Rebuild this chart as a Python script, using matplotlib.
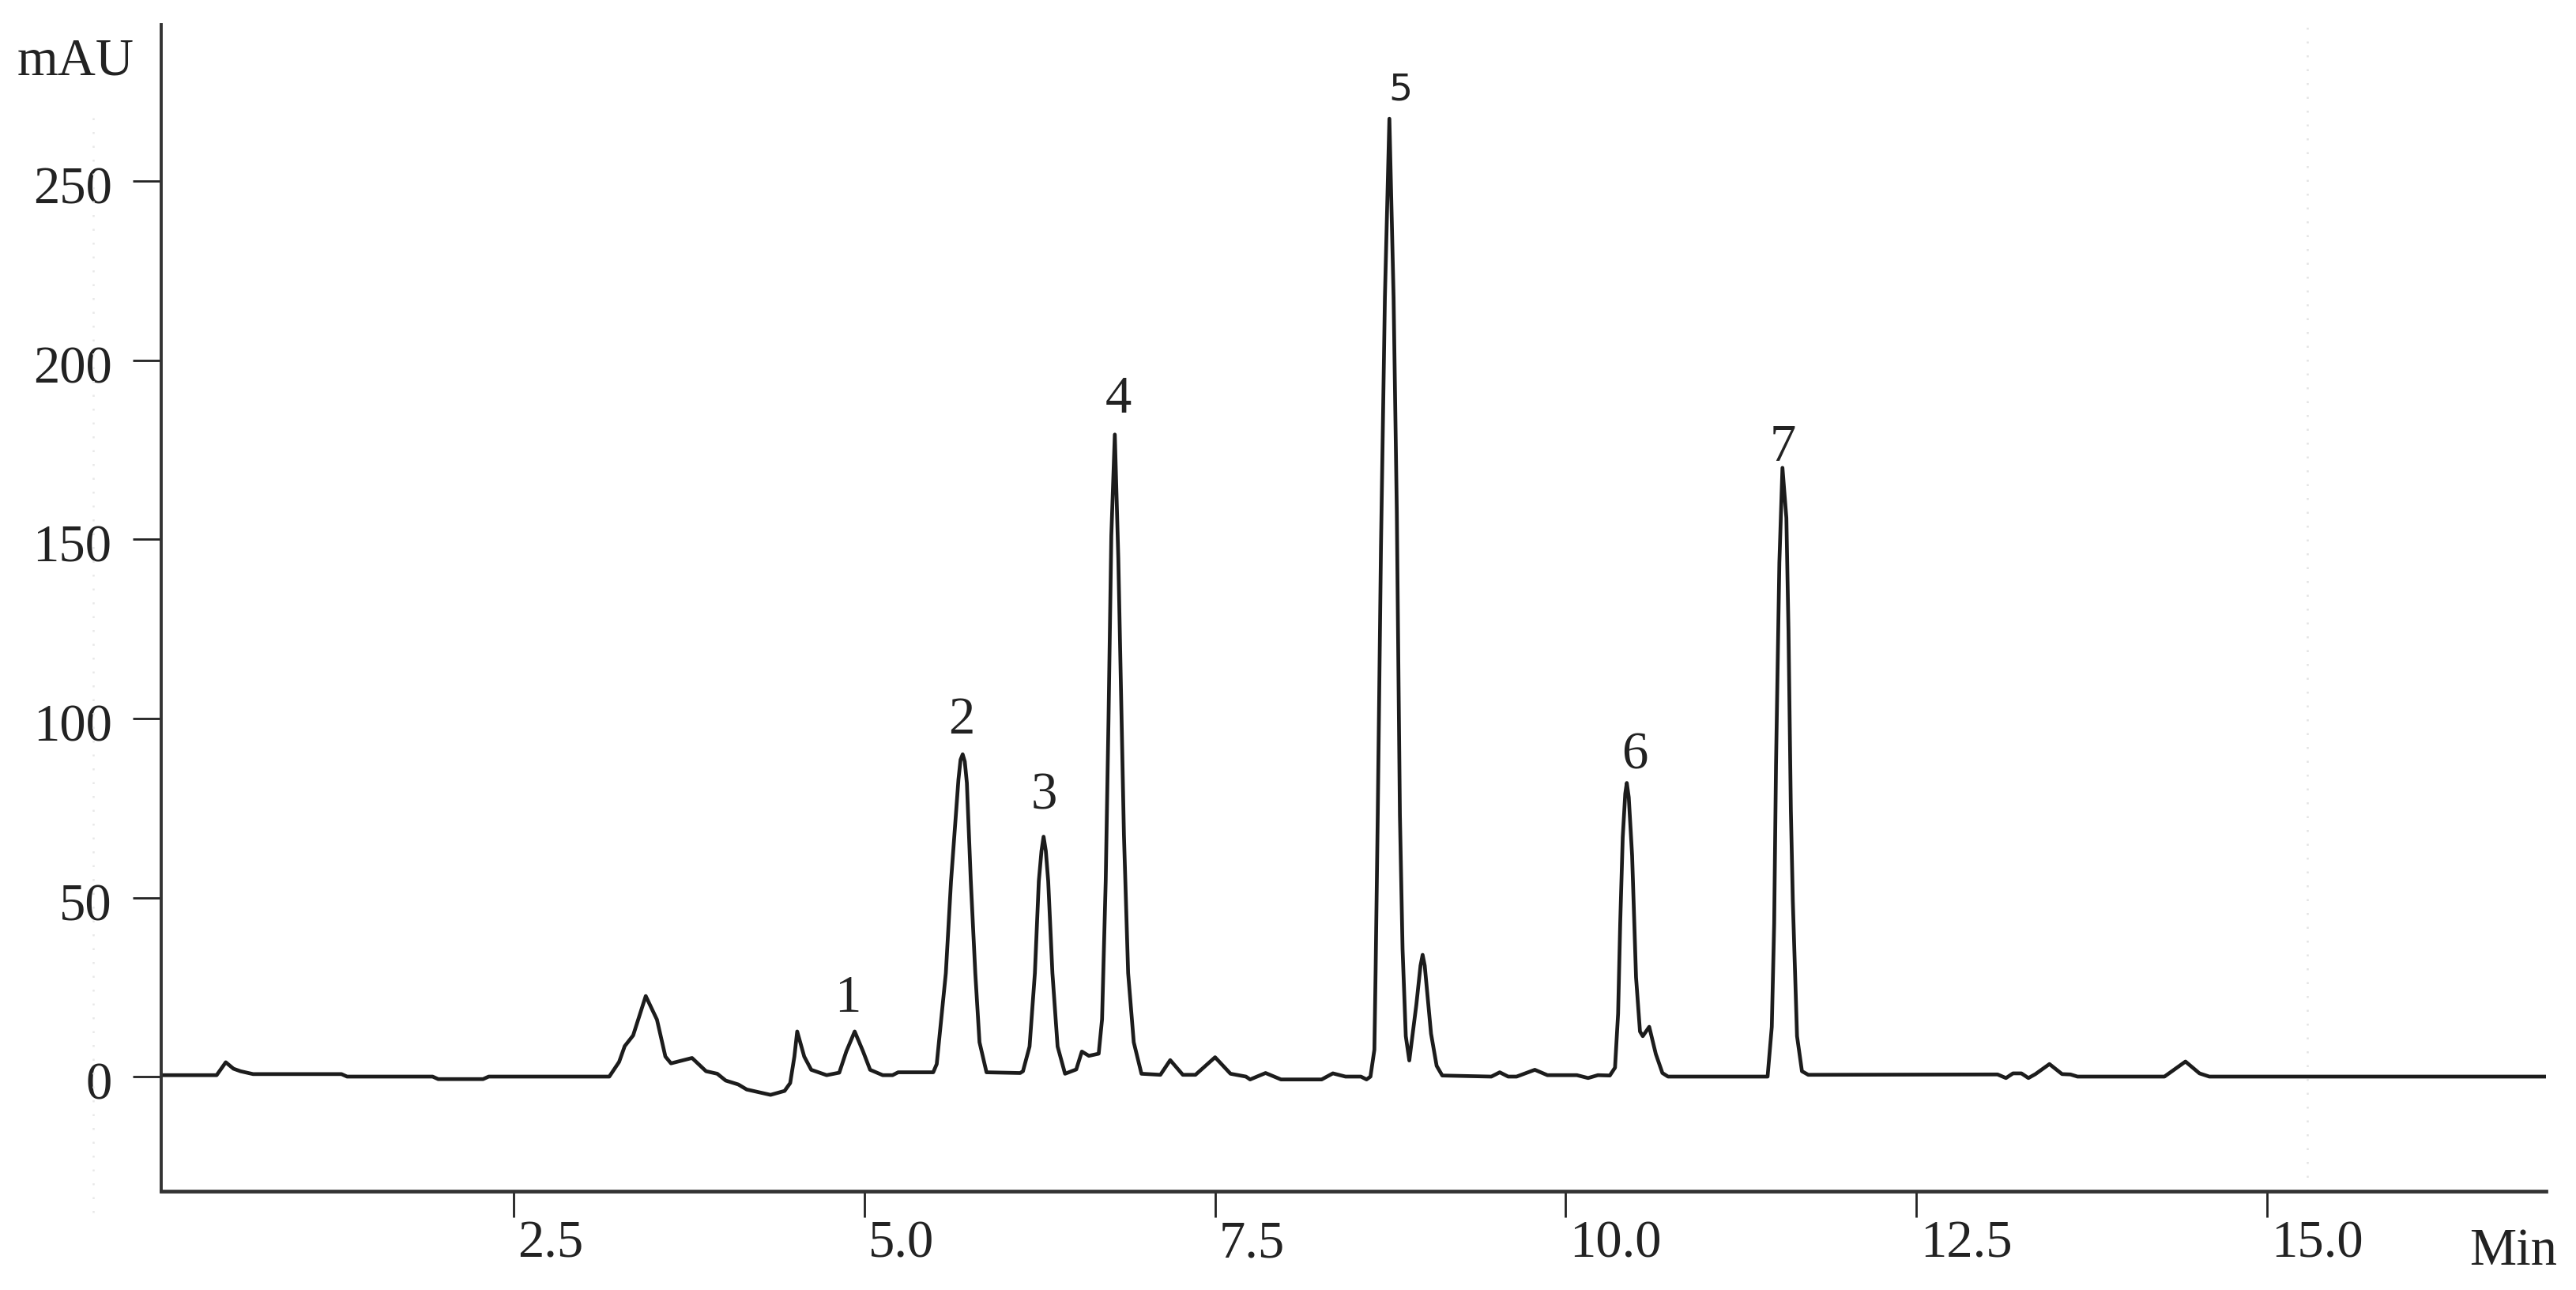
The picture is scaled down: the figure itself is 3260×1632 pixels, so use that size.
import matplotlib
matplotlib.use('Agg')
import matplotlib.pyplot as plt
import matplotlib.transforms as mtransforms

# Chromatogram trace (retention time in min, signal in mAU)
time_min = [
    0.00, 0.38, 0.445, 0.50, 0.55, 0.64, 1.27, 1.31, 1.92, 1.96, 2.28, 2.32,
    3.18, 3.25, 3.29, 3.35, 3.44, 3.52, 3.58, 3.62, 3.70, 3.77, 3.87, 3.95,
    4.01, 4.10, 4.16, 4.24, 4.33, 4.43, 4.47, 4.50, 4.52, 4.57, 4.62, 4.73,
    4.82, 4.87, 4.93, 4.99, 5.04, 5.13, 5.20, 5.24, 5.49,
    5.515, 5.58, 5.617, 5.67, 5.685, 5.70, 5.715, 5.73, 5.758, 5.79, 5.82, 5.87, 6.11,
    6.13, 6.177, 6.215, 6.243, 6.262, 6.277, 6.293, 6.31, 6.34, 6.377, 6.43, 6.51,
    6.55, 6.60, 6.67,
    6.694, 6.72, 6.74, 6.76, 6.785, 6.81, 6.83, 6.85, 6.88, 6.92, 6.975,
    7.11, 7.18, 7.27, 7.36, 7.50, 7.61, 7.72, 7.75, 7.86, 7.97, 8.26, 8.34,
    8.43, 8.54, 8.58,
    8.608, 8.636, 8.645, 8.66, 8.683, 8.711, 8.743, 8.773, 8.796, 8.818, 8.837,
    8.86, 8.885, 8.935, 8.965, 8.98, 8.995, 9.04, 9.08, 9.12, 9.47, 9.53, 9.59,
    9.65, 9.78, 9.87, 10.08, 10.16, 10.23, 10.315,
    10.352, 10.374, 10.389, 10.407, 10.425, 10.436, 10.45, 10.474, 10.502, 10.53,
    10.55, 10.596, 10.643, 10.69, 10.73, 11.44,
    11.47, 11.487, 11.50, 11.524, 11.546, 11.574, 11.589, 11.606, 11.62, 11.65,
    11.685, 11.73, 13.08, 13.14, 13.19, 13.25, 13.30, 13.35, 13.45, 13.54,
    13.60, 13.65, 14.27, 14.42, 14.52, 14.59, 16.99,
]
signal_mau = [
    0.4, 0.4, 4.0, 2.2, 1.5, 0.7, 0.7, 0.0, 0.0, -0.7, -0.7, 0.0,
    0.0, 4.1, 8.5, 11.5, 22.5, 15.9, 5.6, 3.7, 4.5, 5.2, 1.5, 0.8,
    -1.1, -2.2, -3.6, -4.3, -5.1, -4.0, -1.8, 5.6, 12.6, 5.6, 1.9, 0.4,
    1.1, 7.0, 12.6, 7.0, 1.9, 0.4, 0.4, 1.2, 1.2,
    3.5, 28.9, 54.6, 83.0, 88.5, 90.0, 88.0, 82.0, 54.6, 28.9, 9.6, 1.2, 1.0,
    1.5, 8.4, 28.9, 54.6, 63.0, 67.0, 63.0, 54.6, 28.9, 8.4, 0.8, 2.0,
    7.0, 5.8, 6.4,
    16.0, 54.6, 99.6, 151.0, 179.3, 144.6, 106.0, 67.5, 28.9, 9.6, 0.8,
    0.5, 4.6, 0.5, 0.5, 5.4, 0.8, 0.0, -0.8, 1.0, -0.8, -0.8, 0.9,
    0.0, 0.0, -0.8,
    0.0, 7.5, 30.0, 73.0, 148.0, 217.6, 267.5, 217.6, 157.6, 73.0, 35.6,
    11.3, 4.5, 20.0, 31.0, 34.0, 31.0, 12.0, 3.0, 0.3, 0.0, 1.2, 0.0,
    0.0, 1.9, 0.4, 0.4, -0.4, 0.4, 0.3,
    2.5, 17.6, 42.8, 66.8, 79.0, 82.0, 78.0, 61.7, 27.7, 12.6,
    11.3, 13.9, 6.3, 1.0, 0.0, 0.0,
    13.9, 42.8, 86.9, 143.6, 170.0, 156.0, 124.7, 74.3, 49.0, 11.3,
    1.5, 0.5, 0.6, -0.4, 0.9, 0.9, -0.4, 0.7, 3.5, 0.7,
    0.6, 0.0, 0.0, 4.2, 0.9, 0.0, 0.0,
]

# Peak numbers and where their labels sit
peak_names = ['1', '2', '3', '4', '5', '6', '7']
peak_label_t = [4.88, 5.69, 6.28, 6.81, 8.82, 10.49, 11.55]
peak_label_y = [21.7, 99.5, 78.4, 189.0, 275.5, 89.7, 175.7]

x_ticks = [2.5, 5.0, 7.5, 10.0, 12.5, 15.0]
x_tick_labels = ['2.5', '5.0', '7.5', '10.0', '12.5', '15.0']
y_ticks = [0, 50, 100, 150, 200, 250]

serif = 'Liberation Serif'

fig = plt.figure(figsize=(16.3, 8.16), dpi=200)
ax = fig.add_axes([0.0626, 0.0766, 0.9257, 0.9044])

# faint dotted guide lines seen in the original
ax.axvline(15.29, color='#e4e4e4', lw=0.9, ls=(0, (1, 6)), zorder=0)
fig.add_artist(plt.Line2D([0.0362, 0.0362], [0.06, 0.91], transform=fig.transFigure,
                          color='#e8e8e8', lw=0.9, ls=(0, (1, 6))))

ax.plot(time_min, signal_mau, color='#1c1c1c', lw=1.7, solid_joinstyle='round')

for name, tx, ty in zip(peak_names, peak_label_t, peak_label_y):
    if name == '5':
        ax.text(tx, ty, name, ha='center', va='center', fontsize=17,
                family='DejaVu Sans', color='#222222')
    else:
        ax.text(tx, ty, name, ha='center', va='center', fontsize=24,
                family=serif, color='#222222')

ax.set_xlim(-0.015, 16.99)
ax.set_ylim(-32.0, 293.8)

for side in ['top', 'right']:
    ax.spines[side].set_visible(False)
ax.spines['left'].set_linewidth(1.4)
ax.spines['bottom'].set_linewidth(1.7)
ax.spines['left'].set_color('#333333')
ax.spines['bottom'].set_color('#333333')

ax.set_xticks(x_ticks)
ax.set_xticklabels(x_tick_labels)
ax.set_yticks(y_ticks)
ax.set_yticklabels([str(v) for v in y_ticks])
ax.tick_params(axis='x', direction='out', length=12, width=1.0, pad=1,
               labelsize=24, colors='#222222')
ax.tick_params(axis='y', direction='out', length=13, width=1.0, pad=9.5,
               labelsize=24, colors='#222222')

for lab in ax.get_xticklabels():
    lab.set_family(serif)
    lab.set_horizontalalignment('left')
    lab.set_transform(lab.get_transform() +
                      mtransforms.ScaledTranslation(5 / 200, 0, fig.dpi_scale_trans))
for lab in ax.get_yticklabels():
    lab.set_family(serif)
    lab.set_transform(lab.get_transform() +
                      mtransforms.ScaledTranslation(0, -5 / 200, fig.dpi_scale_trans))

fig.text(0.0294, 0.952, 'mAU', ha='center', va='center', fontsize=24,
         family=serif, color='#222222')
fig.text(0.9755, 0.030, 'Min', ha='center', va='center', fontsize=24,
         family=serif, color='#222222')

fig.savefig('out.png', dpi=200, facecolor='white')
